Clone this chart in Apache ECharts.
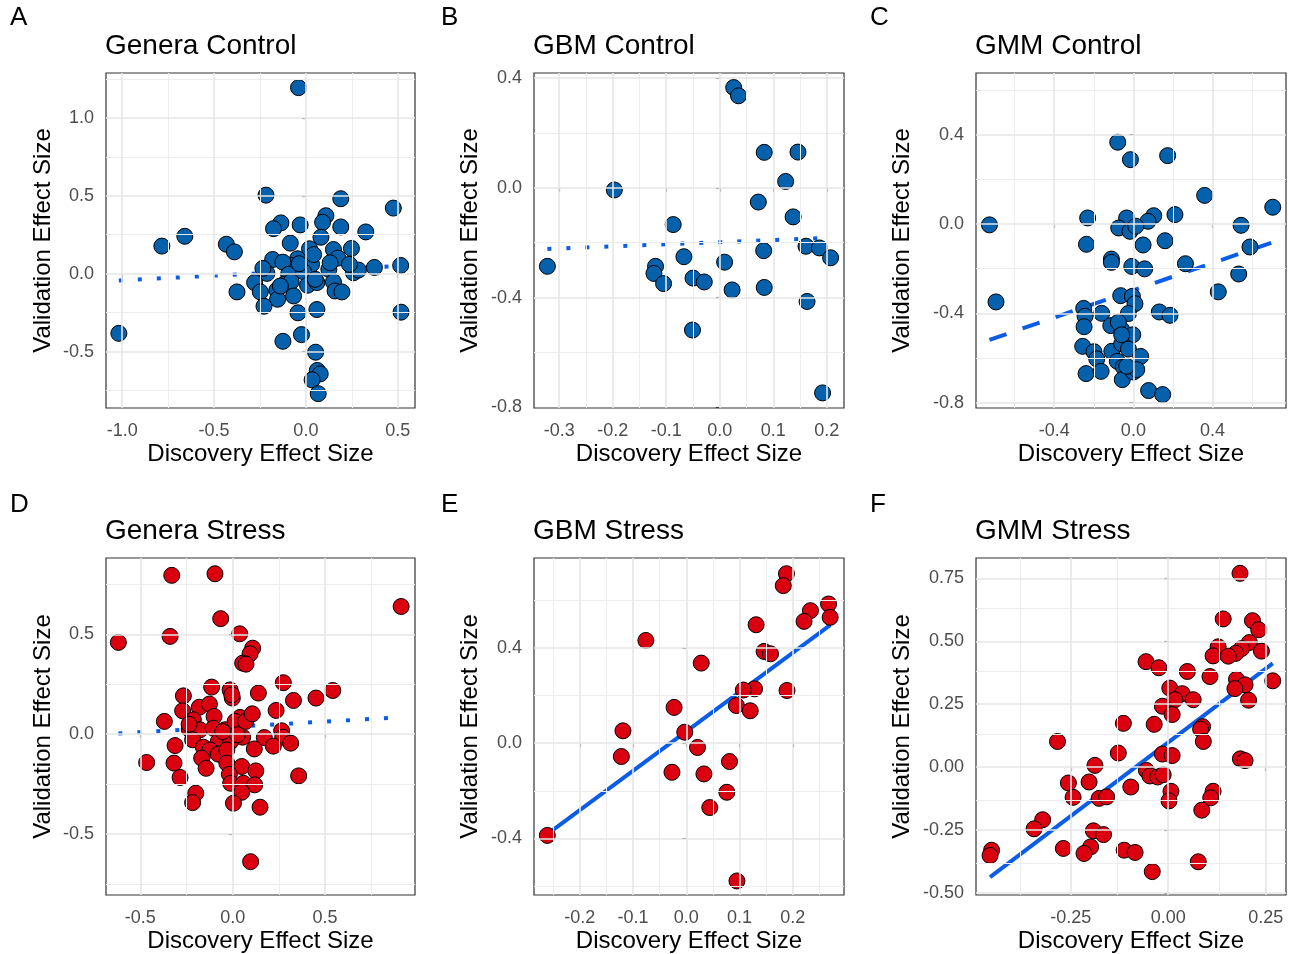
<!DOCTYPE html>
<html lang="en">
<head>
  <meta charset="UTF-8">
  <title>Discovery vs validation effect sizes</title>
  <script src="https://cdn.jsdelivr.net/npm/echarts@6.0.0/dist/echarts.min.js"></script>
  <style>
    body { margin: 0; background: #fff; }
    #chart { width: 1289px; height: 954px; }
  </style>
</head>
<body>
<div id="chart"></div>
<script>
  // panel letters and titles
  const panelLetters = ['A', 'B', 'C', 'D', 'E', 'F'];
  const panelTitles = ['Genera Control', 'GBM Control', 'GMM Control', 'Genera Stress', 'GBM Stress', 'GMM Stress'];

  // points: [discovery effect, validation effect]
  const generaControl = [
    [-0.040, 1.194], [-0.217, 0.504], [0.190, 0.481], [0.476, 0.421], [0.109, 0.372], [0.091, 0.330],
    [-0.136, 0.326], [-0.176, 0.289], [-0.031, 0.313], [0.190, 0.300], [0.326, 0.268], [-0.659, 0.240],
    [-0.784, 0.177], [-0.433, 0.189], [-0.389, 0.140], [0.082, 0.234], [-0.085, 0.196], [0.020, 0.160],
    [0.150, 0.155], [0.248, 0.162], [0.174, 0.100], [-0.181, 0.091], [-0.045, 0.096], [0.031, 0.060],
    [-0.072, 0.053], [-0.125, 0.074], [0.373, 0.040], [0.516, 0.053], [0.259, 0.006], [0.286, 0.023],
    [0.125, 0.028], [0.132, 0.070], [-0.212, 0.002], [-0.234, 0.034], [-0.094, -0.004], [-0.013, 0.013],
    [-0.279, -0.057], [-0.248, -0.117], [-0.375, -0.117], [-0.158, -0.106], [-0.118, -0.068], [-0.080, -0.051],
    [0.009, -0.074], [0.060, -0.057], [0.150, -0.053], [0.159, -0.111], [0.196, -0.117], [-0.154, -0.164],
    [-0.067, -0.143], [-0.228, -0.209], [-0.043, -0.251], [0.060, -0.230], [0.518, -0.247], [-1.018, -0.383],
    [-0.125, -0.434], [-0.024, -0.391], [0.053, -0.504], [0.062, -0.621], [0.078, -0.643], [0.034, -0.681],
    [0.067, -0.770], [-0.139, -0.079], [0.042, 0.123], [-0.036, 0.064], [0.051, -0.036], [0.237, 0.060]
  ];
  const gbmControl = [
    [0.026, 0.365], [0.035, 0.335], [0.083, 0.129], [0.146, 0.130], [-0.197, -0.008], [0.123, 0.023],
    [0.072, -0.052], [0.137, -0.106], [-0.087, -0.134], [0.082, -0.229], [0.161, -0.213], [0.186, -0.219],
    [0.207, -0.255], [-0.322, -0.286], [-0.067, -0.251], [-0.120, -0.286], [-0.123, -0.312], [-0.105, -0.349],
    [-0.050, -0.329], [-0.029, -0.343], [0.009, -0.271], [0.023, -0.372], [0.083, -0.363], [0.163, -0.414],
    [-0.051, -0.518], [0.192, -0.747]
  ];
  const gmmControl = [
    [-0.079, 0.366], [-0.015, 0.288], [0.173, 0.306], [0.360, 0.128], [0.704, 0.075], [-0.727, -0.004],
    [-0.231, 0.027], [-0.034, 0.027], [0.103, 0.037], [0.074, 0.012], [0.210, 0.042], [-0.074, -0.018],
    [-0.017, -0.033], [0.012, -0.010], [0.544, -0.006], [0.589, -0.103], [-0.237, -0.091], [0.049, -0.094],
    [0.160, -0.075], [-0.111, -0.157], [-0.111, -0.172], [-0.008, -0.190], [0.057, -0.201], [0.263, -0.178],
    [0.532, -0.224], [0.429, -0.304], [-0.694, -0.349], [-0.064, -0.321], [-0.005, -0.324], [0.008, -0.357],
    [-0.251, -0.378], [-0.244, -0.413], [-0.160, -0.400], [-0.025, -0.401], [0.131, -0.394], [0.185, -0.409],
    [-0.249, -0.460], [-0.114, -0.455], [-0.059, -0.473], [-0.003, -0.496], [-0.076, -0.440], [-0.256, -0.548],
    [-0.199, -0.572], [-0.185, -0.604], [-0.109, -0.570], [-0.059, -0.536], [-0.025, -0.560], [0.037, -0.593],
    [-0.081, -0.615], [-0.051, -0.640], [-0.239, -0.670], [-0.163, -0.660], [-0.056, -0.697], [0.000, -0.663],
    [0.017, -0.652], [0.077, -0.746], [0.148, -0.764], [-0.059, -0.496], [-0.034, -0.637]
  ];
  const generaStress = [
    [-0.330, 0.796], [-0.096, 0.804], [0.912, 0.640], [-0.065, 0.579], [0.038, 0.503], [-0.619, 0.460],
    [-0.339, 0.490], [0.108, 0.431], [0.094, 0.403], [0.054, 0.356], [0.072, 0.351], [0.274, 0.258],
    [0.542, 0.219], [0.451, 0.181], [0.329, 0.169], [-0.114, 0.236], [-0.014, 0.222], [-0.002, 0.181],
    [0.139, 0.206], [-0.267, 0.192], [-0.181, 0.135], [-0.126, 0.151], [-0.271, 0.117], [-0.101, 0.089],
    [-0.370, 0.064], [-0.213, 0.072], [-0.235, 0.025], [-0.177, 0.022], [-0.105, 0.030], [-0.042, 0.022],
    [0.040, 0.084], [0.013, 0.064], [0.070, 0.064], [0.106, 0.102], [0.235, 0.119], [0.265, 0.017],
    [0.271, -0.015], [0.314, -0.045], [0.171, -0.017], [0.220, -0.060], [0.054, -0.015], [0.117, -0.074],
    [-0.312, -0.057], [-0.217, -0.028], [-0.159, -0.065], [-0.078, -0.037], [-0.011, -0.037], [-0.123, -0.079],
    [-0.078, -0.100], [-0.032, -0.079], [-0.168, -0.120], [-0.466, -0.142], [-0.318, -0.145], [-0.144, -0.171],
    [-0.032, -0.145], [0.049, -0.162], [0.125, -0.184], [-0.018, -0.201], [-0.011, -0.246], [0.058, -0.246],
    [0.119, -0.254], [-0.285, -0.217], [0.357, -0.209], [-0.200, -0.296], [-0.217, -0.343], [0.049, -0.291],
    [0.004, -0.346], [0.148, -0.366], [0.097, -0.639], [-0.236, 0.050], [-0.005, 0.197], [0.025, -0.003],
    [-0.054, 0.013]
  ];
  const gbmStress = [
    [0.188, 0.711], [0.182, 0.661], [0.267, 0.584], [0.233, 0.556], [0.221, 0.511], [0.270, 0.528],
    [0.131, 0.497], [-0.076, 0.431], [0.146, 0.385], [0.158, 0.375], [0.028, 0.336], [0.128, 0.228],
    [0.107, 0.223], [0.189, 0.221], [-0.023, 0.150], [0.094, 0.158], [0.120, 0.136], [-0.119, 0.052],
    [-0.003, 0.046], [-0.122, -0.056], [0.021, -0.018], [-0.027, -0.122], [0.033, -0.129], [0.081, -0.077],
    [0.076, -0.206], [0.044, -0.270], [-0.261, -0.387], [0.095, -0.578]
  ];
  const gmmStress = [
    [0.184, 0.770], [0.141, 0.589], [0.216, 0.582], [0.232, 0.546], [0.128, 0.478], [0.208, 0.495],
    [0.188, 0.471], [0.173, 0.452], [0.239, 0.461], [0.115, 0.442], [0.154, 0.441], [-0.057, 0.419],
    [-0.024, 0.395], [0.049, 0.380], [0.107, 0.360], [0.268, 0.343], [0.175, 0.349], [0.197, 0.327],
    [0.171, 0.312], [0.206, 0.266], [0.004, 0.314], [0.036, 0.292], [0.017, 0.268], [0.064, 0.268],
    [-0.015, 0.242], [0.010, 0.209], [-0.115, 0.174], [-0.036, 0.170], [0.088, 0.161], [0.083, 0.151],
    [0.090, 0.102], [-0.284, 0.102], [-0.128, 0.056], [-0.015, 0.052], [0.010, 0.046], [-0.188, 0.007],
    [-0.056, -0.013], [-0.047, -0.035], [-0.027, -0.039], [-0.013, -0.030], [0.185, 0.033], [0.197, 0.026],
    [-0.256, -0.063], [-0.203, -0.059], [-0.096, -0.079], [-0.244, -0.120], [-0.177, -0.124], [-0.158, -0.118],
    [0.007, -0.096], [0.002, -0.134], [0.115, -0.096], [0.109, -0.122], [0.086, -0.171], [-0.322, -0.209],
    [-0.344, -0.245], [-0.192, -0.253], [-0.166, -0.268], [-0.269, -0.323], [-0.199, -0.317], [-0.216, -0.343],
    [-0.113, -0.330], [-0.085, -0.339], [-0.453, -0.330], [-0.457, -0.351], [-0.041, -0.415], [0.077, -0.376]
  ];

  // fitted lines, end points
  const generaControlFit = [[-1.018, -0.044], [0.518, 0.050]];
  const gbmControlFit = [[-0.322, -0.223], [0.207, -0.182]];
  const gmmControlFit = [[-0.727, -0.519], [0.704, -0.082]];
  const generaStressFit = [[-0.619, 0.004], [0.912, 0.085]];
  const gbmStressFit = [[-0.261, -0.382], [0.270, 0.495]];
  const gmmStressFit = [[-0.457, -0.437], [0.268, 0.412]];

  // axis breaks
  const xTicksA = [-1.0, -0.5, 0.0, 0.5];
  const yTicksA = [-0.5, 0.0, 0.5, 1.0];
  const xMinorA = [-0.75, -0.25, 0.25];
  const yMinorA = [-0.75, -0.25, 0.25, 0.75, 1.25];
  const xTicksB = [-0.3, -0.2, -0.1, 0.0, 0.1, 0.2];
  const yTicksB = [-0.8, -0.4, 0.0, 0.4];
  const xMinorB = [-0.25, -0.15, -0.05, 0.05, 0.15];
  const yMinorB = [-0.6, -0.2, 0.2];
  const xTicksC = [-0.4, 0.0, 0.4];
  const yTicksC = [-0.8, -0.4, 0.0, 0.4];
  const xMinorC = [-0.6, -0.2, 0.2, 0.6];
  const yMinorC = [-0.6, -0.2, 0.2, 0.6];
  const xTicksD = [-0.5, 0.0, 0.5];
  const yTicksD = [-0.5, 0.0, 0.5];
  const xMinorD = [-0.25, 0.25, 0.75];
  const yMinorD = [-0.75, -0.25, 0.25, 0.75];
  const xTicksE = [-0.2, -0.1, 0.0, 0.1, 0.2];
  const yTicksE = [-0.4, 0.0, 0.4];
  const xMinorE = [-0.25, -0.15, -0.05, 0.05, 0.15, 0.25];
  const yMinorE = [-0.6, -0.2, 0.2, 0.6];
  const xTicksF = [-0.25, 0.0, 0.25];
  const yTicksF = [-0.5, -0.25, 0.0, 0.25, 0.5, 0.75];
  const xMinorF = [-0.375, -0.125, 0.125];
  const yMinorF = [-0.375, -0.125, 0.125, 0.375, 0.625];

  const BLUE = '#0561AB';
  const RED = '#DA0010';
  const FIT = '#0B5CE6';
  const FONT = 'Liberation Sans, Arial, sans-serif';

  // panel placement and axis ranges
  const panels = [
    { pts: generaControl, fit: generaControlFit, fill: BLUE, dash: [4, 15],
      xt: xTicksA, yt: yTicksA, xm: xMinorA, ym: yMinorA, dx: 1, dy: 1,
      box: [106, 73, 309, 335], xr: [-1.088, 0.594], yr: [-0.862, 1.288], gap: 51, lx: 10, ly: 18 },
    { pts: gbmControl, fit: gbmControlFit, fill: BLUE, dash: [4, 15],
      xt: xTicksB, yt: yTicksB, xm: xMinorB, ym: yMinorB, dx: 1, dy: 1,
      box: [534, 73, 310, 335], xr: [-0.347, 0.232], yr: [-0.802, 0.418], gap: 52, lx: 441, ly: 18 },
    { pts: gmmControl, fit: gmmControlFit, fill: BLUE, dash: [18, 17],
      xt: xTicksC, yt: yTicksC, xm: xMinorC, ym: yMinorC, dx: 1, dy: 1,
      box: [976, 73, 310, 335], xr: [-0.795, 0.771], yr: [-0.824, 0.676], gap: 62, lx: 870, ly: 18 },
    { pts: generaStress, fit: generaStressFit, fill: RED, dash: [4, 15],
      xt: xTicksD, yt: yTicksD, xm: xMinorD, ym: yMinorD, dx: 1, dy: 1,
      box: [106, 558, 309, 337], xr: [-0.686, 0.987], yr: [-0.806, 0.883], gap: 51, lx: 10, ly: 505 },
    { pts: gbmStress, fit: gbmStressFit, fill: RED, dash: 'solid',
      xt: xTicksE, yt: yTicksE, xm: xMinorE, ym: yMinorE, dx: 1, dy: 1,
      box: [534, 558, 310, 337], xr: [-0.286, 0.296], yr: [-0.637, 0.777], gap: 52, lx: 441, ly: 505 },
    { pts: gmmStress, fit: gmmStressFit, fill: RED, dash: 'solid',
      xt: xTicksF, yt: yTicksF, xm: xMinorF, ym: yMinorF, dx: 2, dy: 2,
      box: [976, 558, 310, 337], xr: [-0.493, 0.302], yr: [-0.508, 0.831], gap: 62, lx: 870, ly: 505 }
  ];

  function inside(vals, r) {
    const pad = (r[1] - r[0]) * 0.005;
    return vals.filter(v => v > r[0] + pad && v < r[1] - pad);
  }

  const grid = [], xAxis = [], yAxis = [], series = [], graphic = [];

  panels.forEach((p, i) => {
    const [left, top, width, height] = p.box;
    grid.push({ left, top, width, height, show: true, borderColor: '#333', borderWidth: 1.2, backgroundColor: '#fff' });

    const makeAxis = (ticks, digits, r, margin) => ({
      type: 'value', gridIndex: i, min: r[0], max: r[1], scale: true,
      axisLine: { show: false },
      axisTick: { show: true, customValues: ticks, length: 4, lineStyle: { color: '#333', width: 1.1 } },
      axisLabel: { customValues: ticks, formatter: v => v.toFixed(digits), color: '#4D4D4D', fontSize: 18, fontFamily: FONT, margin },
      splitLine: { show: false },
      nameLocation: 'middle',
      nameTextStyle: { color: '#000', fontSize: 24, fontFamily: FONT }
    });

    xAxis.push(Object.assign(makeAxis(p.xt, p.dx, p.xr, 14), { name: 'Discovery Effect Size', nameGap: 34 }));
    yAxis.push(Object.assign(makeAxis(p.yt, p.dy, p.yr, 12), { name: 'Validation Effect Size', nameGap: p.gap }));

    // grid lines (minor then major), drawn under the marks
    const gl = (vals, key, w, c) => inside(vals, key === 'xAxis' ? p.xr : p.yr).map(v => ({
      [key]: v, lineStyle: { color: c, width: w, type: 'solid' }
    }));
    series.push({
      type: 'line', xAxisIndex: i, yAxisIndex: i, data: p.fit, z: 1, silent: true, animation: false,
      symbol: 'none', lineStyle: { opacity: 0 },
      markLine: {
        silent: true, animation: false, symbol: 'none', label: { show: false },
        emphasis: { disabled: true },
        data: [].concat(
          gl(p.xm, 'xAxis', 1, '#EDEDED'), gl(p.ym, 'yAxis', 1, '#EDEDED'),
          gl(p.xt, 'xAxis', 1.6, '#E6E6E6'), gl(p.yt, 'yAxis', 1.6, '#E6E6E6'))
      }
    });

    // fitted line
    series.push({
      type: 'line', xAxisIndex: i, yAxisIndex: i, data: p.fit, z: 2, silent: true, animation: false,
      symbol: 'none', lineStyle: { color: FIT, width: 4, type: p.dash, cap: 'butt' }
    });

    // points
    series.push({
      type: 'scatter', xAxisIndex: i, yAxisIndex: i, data: p.pts, z: 3, animation: false,
      symbolSize: 16, itemStyle: { color: p.fill, borderColor: '#000', borderWidth: 1, opacity: 1 }
    });

    graphic.push({ type: 'text', left: p.lx, top: p.ly - 13, style: { text: panelLetters[i], font: '26px ' + FONT, fill: '#000' } });
    graphic.push({ type: 'text', left: left - 1, top: top - 41, style: { text: panelTitles[i], font: '28px ' + FONT, fill: '#000' } });
  });

  const chart = echarts.init(document.getElementById('chart'));
  chart.setOption({
    animation: false,
    backgroundColor: '#fff',
    grid, xAxis, yAxis, series, graphic
  });
</script>
</body>
</html>
